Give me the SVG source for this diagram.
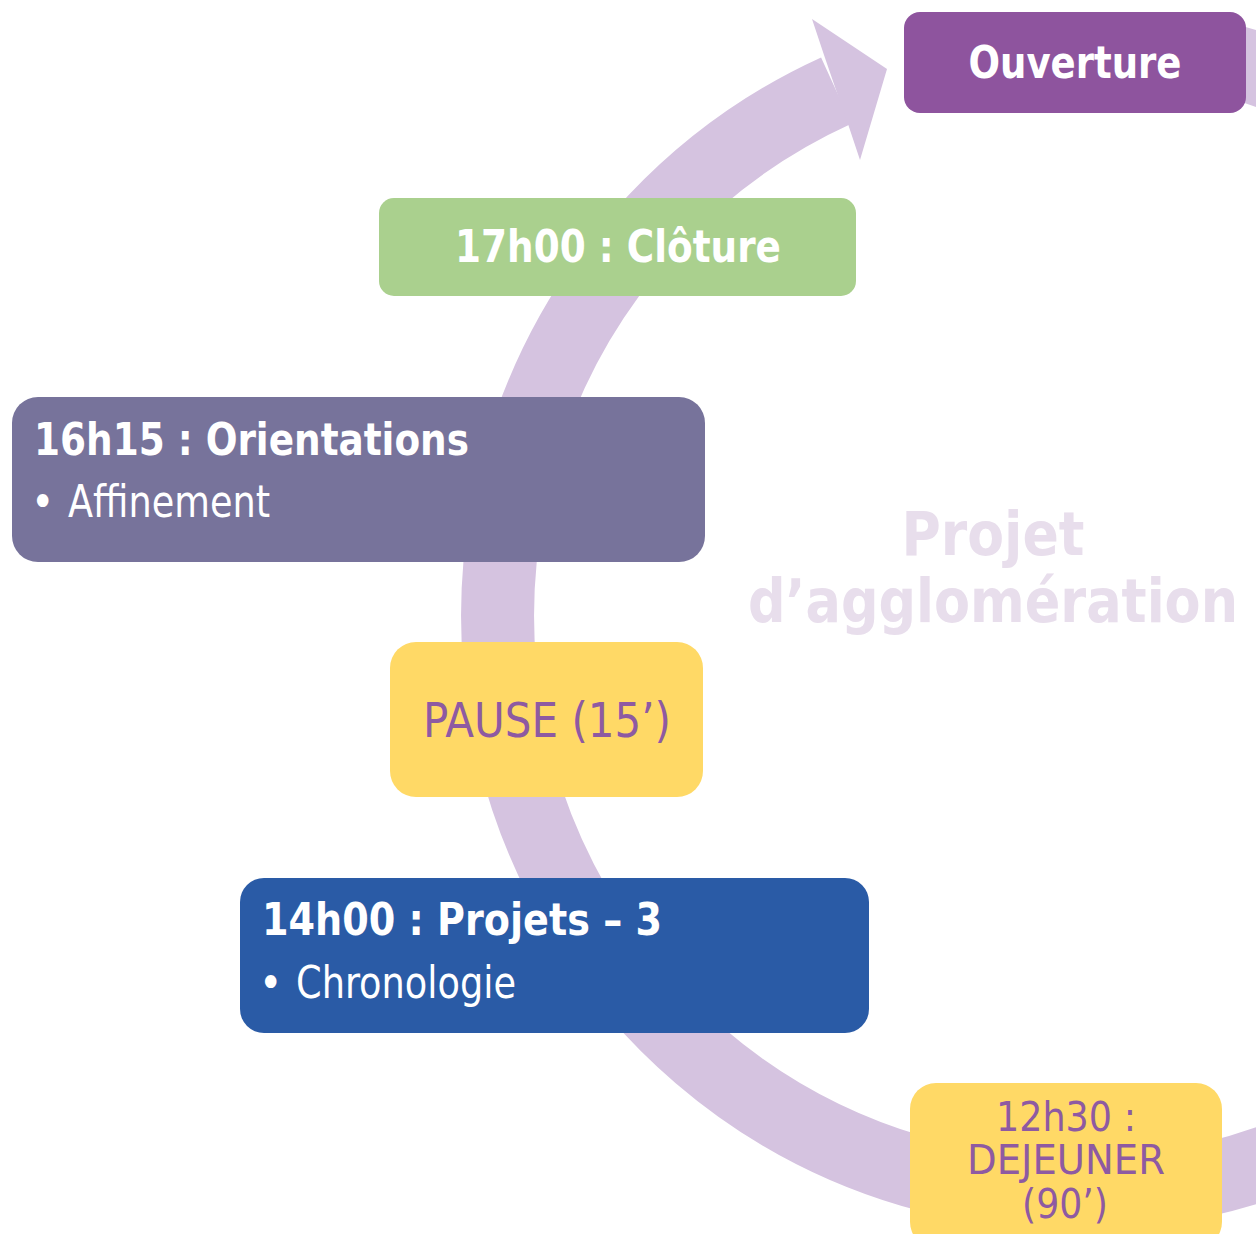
<svg xmlns="http://www.w3.org/2000/svg" width="1256" height="1234" viewBox="0 0 1256 1234">
<defs>
<style>
.band{fill:none;stroke:#d5c3e0;stroke-width:73;stroke-linecap:butt}
.head{fill:#d5c3e0}
.t{font-family:'DejaVu Sans Condensed','DejaVu Sans',sans-serif;font-stretch:condensed}
.b{font-weight:bold;fill:#ffffff;font-size:44px}
.r{font-weight:normal;fill:#ffffff;font-size:44px}
.p{font-weight:normal;fill:#8e5aa2}
.w{font-weight:bold;fill:#e8deec;font-size:60px}
</style>
</defs>
<rect width="1256" height="1234" fill="#ffffff"/>
<g id="connectors">
<path class="band" d="M1364,1117.6 A578,578 0 1 1 836.2,90.6"/>
<polygon class="head" points="824,55 812,19 887,69 860,160 848,124 836,90"/>
<path class="band" d="M1205,54 A578,578 0 0 1 1517,246"/>
</g>
<g id="watermark">
<text class="t w" x="993" y="555" text-anchor="middle" textLength="183" lengthAdjust="spacingAndGlyphs">Projet</text>
<text class="t w" x="993" y="622" text-anchor="middle" textLength="490" lengthAdjust="spacingAndGlyphs">d’agglomération</text>
</g>
<g id="ouverture">
<rect x="904" y="12" width="342" height="101" rx="16" fill="#8e549e"/>
<text class="t b" x="1075" y="78" text-anchor="middle" textLength="213" lengthAdjust="spacingAndGlyphs">Ouverture</text>
</g>
<g id="cloture">
<rect x="379" y="198" width="477" height="98" rx="15" fill="#aad08e"/>
<text class="t b" x="618" y="262" text-anchor="middle" textLength="326" lengthAdjust="spacingAndGlyphs">17h00 : Clôture</text>
</g>
<g id="orientations">
<rect x="12" y="397" width="693" height="165" rx="26" fill="#77739b"/>
<text class="t b" x="34" y="455" textLength="435" lengthAdjust="spacingAndGlyphs">16h15 : Orientations</text>
<text class="t r" y="517"><tspan x="31">•</tspan><tspan x="68" textLength="202" lengthAdjust="spacingAndGlyphs">Affinement</tspan></text>
</g>
<g id="pause">
<rect x="390" y="642" width="313" height="155" rx="26" fill="#ffd966"/>
<text class="t p" x="547" y="737" text-anchor="middle" font-size="48" textLength="248" lengthAdjust="spacingAndGlyphs">PAUSE (15’)</text>
</g>
<g id="projets">
<rect x="240" y="878" width="629" height="155" rx="24" fill="#2a5ba6"/>
<text class="t b" x="262" y="935" textLength="400" lengthAdjust="spacingAndGlyphs">14h00 : Projets – 3</text>
<text class="t r" y="998"><tspan x="259">•</tspan><tspan x="296" textLength="220" lengthAdjust="spacingAndGlyphs">Chronologie</tspan></text>
</g>
<g id="dejeuner">
<rect x="910" y="1083" width="312" height="165" rx="26" fill="#ffd966"/>
<text class="t p" font-size="40" text-anchor="middle"><tspan x="1066" y="1131" textLength="140" lengthAdjust="spacingAndGlyphs">12h30 :</tspan><tspan x="1066" y="1174" textLength="198" lengthAdjust="spacingAndGlyphs">DEJEUNER</tspan><tspan x="1065" y="1218" textLength="86" lengthAdjust="spacingAndGlyphs">(90’)</tspan></text>
</g>
</svg>
